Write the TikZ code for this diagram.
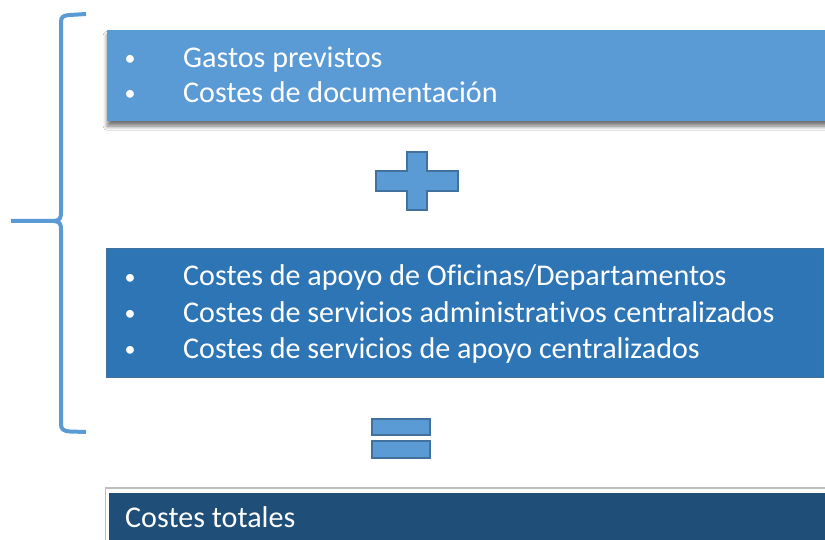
\documentclass[tikz,border=0pt]{standalone}
\usepackage{fontspec}
\setmainfont[Ligatures=NoCommon]{Carlito}
\usetikzlibrary{shadows.blur}
\definecolor{lightblue}{HTML}{5B9BD5}
\definecolor{midblue}{HTML}{2E75B6}
\definecolor{darkblue}{HTML}{1F4E79}
\definecolor{edgeblue}{HTML}{41719C}
\tikzset{
  boxone/.style={anchor=north west, inner sep=0pt, fill=lightblue, draw=none,
    blur shadow={shadow xshift=0pt, shadow yshift=-5pt, shadow blur radius=4pt, shadow blur steps=8, shadow opacity=55}},
  boxtwo/.style={anchor=north west, inner sep=0pt, fill=midblue, draw=edgeblue, line width=1.2pt},
  boxthree/.style={anchor=north west, inner sep=0pt, fill=darkblue, draw=none},
  txt/.style={anchor=base west, inner sep=0pt, text=white, font=\fontsize{30.1}{36}\selectfont},
  bul/.style={anchor=base, inner sep=0pt, text=white, font=\fontsize{22}{26}\selectfont},
  sym/.style={fill=lightblue, draw=edgeblue, line width=1.6pt},
  brace/.style={draw=lightblue, line width=4pt}
}
\begin{document}
\begin{tikzpicture}[x=1pt,y=-1pt]
\useasboundingbox (0,0) rectangle (825,540);
\fill[white] (0,0) rectangle (825,540);
% brace
\draw[brace, line cap=butt] (86,14) -- (70,15) .. controls (63,15.5) and (61,17) .. (61,22) -- (61,212) .. controls (61,218) and (60,220.5) .. (54,221) -- (11,221);
\draw[brace, line cap=butt] (54,221) .. controls (60,221.5) and (61,224) .. (61,230) -- (61,424) .. controls (61,429) and (63,431) .. (70,431.5) -- (86,432);
% box 1
\node[boxone, minimum width=730pt, minimum height=91pt] (b1) at (107,30) {};
\node[bul] (b1a) at (130,66) {•};
\node[txt] (t1a) at (183,68) {Gastos previstos};
\node[bul] (b1b) at (130,101) {•};
\node[txt] (t1b) at (183,103) {Costes de documentación};
% plus
\path[sym] (407,152) -- (427,152) -- (427,171) -- (458,171) -- (458,191) -- (427,191) -- (427,210) -- (407,210) -- (407,191) -- (376,191) -- (376,171) -- (407,171) -- cycle;
% box 2
\node[boxtwo, minimum width=717pt, minimum height=129pt] (b2) at (105.5,248) {};
\node[bul] (b2a) at (130,284) {•};
\node[txt] (t2a) at (183,286) {Costes de apoyo de Oficinas/Departamentos};
\node[bul] (b2b) at (130,320) {•};
\node[txt] (t2b) at (183,322) {Costes de servicios administrativos centralizados};
\node[bul] (b2c) at (130,356) {•};
\node[txt] (t2c) at (183,358) {Costes de servicios de apoyo centralizados};
% equals
\path[sym] (372,419) rectangle (430,435);
\path[sym] (372,441) rectangle (430,458);
% box 3
\draw[draw=black!25, line width=1.2pt, fill=white] (105.5,488) rectangle (840,560);
\node[boxthree, minimum width=740pt, minimum height=60pt] (b3) at (109,492.5) {};
\node[txt] (t3) at (125,527) {Costes totales};
\end{tikzpicture}
\end{document}
